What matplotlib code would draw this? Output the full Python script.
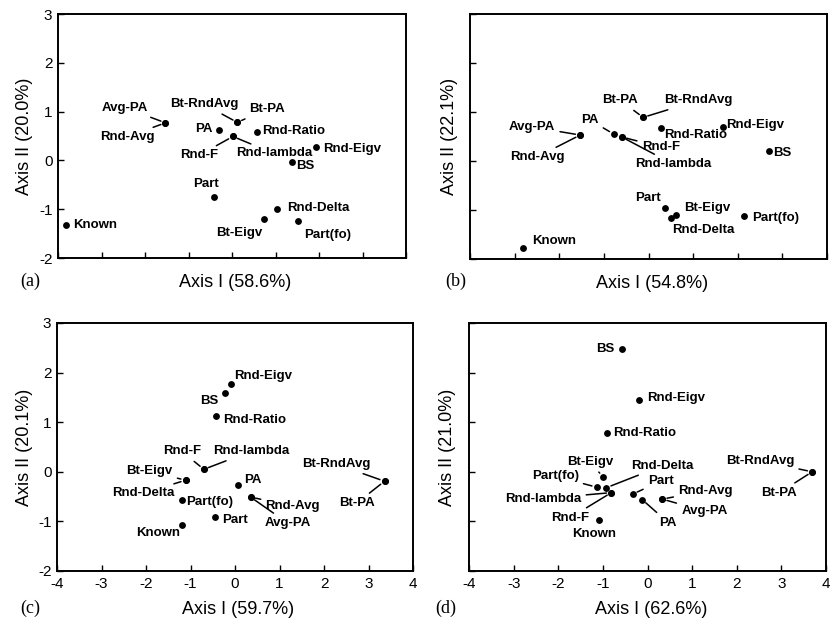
import matplotlib
matplotlib.use("Agg")
import matplotlib.pyplot as plt

plt.rcParams['font.family'] = ['Liberation Sans', 'DejaVu Sans']
plt.rcParams['axes.unicode_minus'] = False

# method names, shared order for every panel
names = ['Known', 'Avg-PA', 'Rnd-Avg', 'PA', 'Bt-RndAvg', 'Bt-PA', 'Rnd-F',
         'Rnd-lambda', 'Rnd-Ratio', 'Rnd-Eigv', 'BS', 'Part', 'Rnd-Delta',
         'Bt-Eigv', 'Part(fo)']

# panel (a)
a_x = [-3.81, -1.53, -1.53, -0.31, 0.12, 0.12, 0.02, 0.02, 0.57, 1.92, 1.37, -0.42, 1.03, 0.74, 1.51]
a_y = [-1.33, 0.77, 0.77, 0.62, 0.78, 0.78, 0.49, 0.49, 0.59, 0.27, -0.04, -0.74, -1.00, -1.21, -1.24]
# panel (b)
b_x = [-2.81, -1.53, -1.53, -0.78, -0.12, -0.12, -0.60, -0.60, 0.28, 1.66, 2.69, 0.38, 0.51, 0.61, 2.13]
b_y = [-1.77, 0.53, 0.53, 0.55, 0.89, 0.89, 0.49, 0.49, 0.67, 0.70, 0.21, -0.96, -1.16, -1.11, -1.12]
# panel (c)
c_x = [-1.20, 0.35, 0.35, 0.07, 3.36, 3.36, -0.70, -0.70, -0.42, -0.10, -0.22, -0.44, -1.11, -1.11, -1.19]
c_y = [-1.07, -0.51, -0.51, -0.26, -0.19, -0.19, 0.05, 0.05, 1.13, 1.77, 1.58, -0.91, -0.17, -0.17, -0.57]
# panel (d)
d_x = [-1.08, 0.33, 0.33, -0.12, 3.69, 3.69, -0.81, -0.81, -0.90, -0.19, -0.57, -0.33, -0.92, -1.00, -1.14]
d_y = [-0.97, -0.55, -0.55, -0.56, 0.00, 0.00, -0.42, -0.42, 0.78, 1.45, 2.47, -0.45, -0.32, -0.10, -0.31]

x_labels = ['Axis I (58.6%)', 'Axis I (54.8%)', 'Axis I (59.7%)', 'Axis I (62.6%)']
y_labels = ['Axis II (20.0%)', 'Axis II (22.1%)', 'Axis II (20.1%)', 'Axis II (21.0%)']
tags = ['(a)', '(b)', '(c)', '(d)']

# label placement: name -> (dx px, dy px, ha, leader line)
lay_a = {
    'Known': (7, 0, 'left', False), 'Avg-PA': (-17, 15, 'right', True),
    'Rnd-Avg': (-11, -14, 'right', True), 'PA': (-6, 1, 'right', False),
    'Bt-RndAvg': (1, 18, 'right', True), 'Bt-PA': (12, 13, 'left', True),
    'Rnd-F': (-15, -19, 'right', True), 'Rnd-lambda': (3, -17, 'left', True),
    'Rnd-Ratio': (5, 1, 'left', False), 'Rnd-Eigv': (8, -2, 'left', False),
    'BS': (5, -4, 'left', False), 'Part': (-8, 13, 'center', False),
    'Rnd-Delta': (10, 1, 'left', False), 'Bt-Eigv': (-25, -14, 'center', False),
    'Part(fo)': (6, -14, 'left', False),
}
lay_b = {
    'Known': (9, 7, 'left', False), 'Avg-PA': (-25, 8, 'right', True),
    'Rnd-Avg': (-16, -22, 'right', True), 'PA': (-15, 14, 'right', True),
    'Bt-PA': (-5, 17, 'right', True), 'Bt-RndAvg': (21, 17, 'left', True),
    'Rnd-F': (20, -10, 'left', True), 'Rnd-lambda': (13, -27, 'left', True),
    'Rnd-Ratio': (3, -7, 'left', False), 'Rnd-Eigv': (4, 2, 'left', False),
    'BS': (5, -2, 'left', False), 'Part': (-5, 10, 'right', False),
    'Rnd-Delta': (1, -12, 'left', False), 'Bt-Eigv': (8, 7, 'left', False),
    'Part(fo)': (9, -2, 'left', False),
}
lay_c = {
    'Known': (-1, -8, 'right', False), 'Avg-PA': (14, -26, 'left', True),
    'Rnd-Avg': (15, -9, 'left', True), 'PA': (6, 5, 'left', False),
    'Bt-RndAvg': (-14, 17, 'right', True), 'Bt-PA': (-10, -22, 'right', True),
    'Rnd-F': (-3, 18, 'right', True), 'Rnd-lambda': (9, 18, 'left', True),
    'Rnd-Ratio': (7, -4, 'left', False), 'Rnd-Eigv': (4, 8, 'left', False),
    'BS': (-7, -8, 'right', False), 'Part': (7, -3, 'left', False),
    'Rnd-Delta': (-11, -13, 'right', True), 'Bt-Eigv': (-13, 9, 'right', True),
    'Part(fo)': (4, -2, 'left', False),
}
lay_d = {
    'Known': (-5, -14, 'center', False), 'Avg-PA': (19, -12, 'left', True),
    'Rnd-Avg': (16, 8, 'left', True), 'PA': (26, -23, 'center', True),
    'Bt-RndAvg': (-18, 11, 'right', True), 'Bt-PA': (-15, -21, 'right', True),
    'Rnd-F': (-22, -25, 'right', True), 'Rnd-lambda': (-30, -6, 'right', True),
    'Rnd-Ratio': (6, 0, 'left', False), 'Rnd-Eigv': (8, 2, 'left', False),
    'BS': (-8, 0, 'right', False), 'Part': (15, 13, 'left', True),
    'Rnd-Delta': (25, 22, 'left', True), 'Bt-Eigv': (-13, 15, 'center', True),
    'Part(fo)': (-18, 11, 'right', True),
}

W, H = 830, 622
fig = plt.figure(figsize=(W / 100, H / 100), dpi=100)

# axes boxes in pixels: left, right, top, bottom
boxes = [(58, 406, 14, 258), (470, 827, 14, 259), (57, 413, 323, 571), (469, 826, 323, 571)]
ylab_x = [-0.072, -0.034, -0.068, -0.036]
xlab_y = [-0.066, -0.066, -0.121, -0.121]
tag_xy = [(20, 281), (445, 281), (20, 608), (435, 608)]

panels = [(a_x, a_y, lay_a), (b_x, b_y, lay_b), (c_x, c_y, lay_c), (d_x, d_y, lay_d)]

for i, (xs, ys, lay) in enumerate(panels):
    l, r, t, b = boxes[i]
    ax = fig.add_axes([l / W, 1 - b / H, (r - l) / W, (b - t) / H])
    ax.plot(xs, ys, 'o', color='black', markersize=3.9, linestyle='none')

    for name, x, y in zip(names, xs, ys):
        dx, dy, ha, leader = lay[name]
        kw = {}
        if leader:
            kw['arrowprops'] = dict(arrowstyle='-', color='black', lw=1.1,
                                    shrinkA=1.5, shrinkB=3.5)
        ax.annotate(name, (x, y), xytext=(dx, dy), textcoords='offset pixels',
                    ha=ha, va='center', fontsize=9.5, fontweight='bold', **kw)

    ax.set_xlim(-4, 4)
    ax.set_ylim(-2, 3)
    ax.set_xticks(range(-4, 5))
    ax.set_yticks(range(-2, 4))
    ax.tick_params(direction='in', length=4, width=1, labelsize=11, pad=4,
                   top=False, right=False)
    if i < 2:
        ax.tick_params(labelbottom=False)
    if i % 2 == 1:
        ax.tick_params(labelleft=False)
    for s in ax.spines.values():
        s.set_linewidth(1.4)

    ax.set_xlabel(x_labels[i], fontsize=13)
    ax.set_ylabel(y_labels[i], fontsize=13)
    ax.xaxis.set_label_coords(0.51, xlab_y[i])
    ax.yaxis.set_label_coords(ylab_x[i], 0.5)

    tx, ty = tag_xy[i]
    fig.text(tx / W, 1 - ty / H, tags[i], family='Liberation Serif',
             fontsize=13, ha='left', va='center')

fig.savefig('out.png', dpi=100)
